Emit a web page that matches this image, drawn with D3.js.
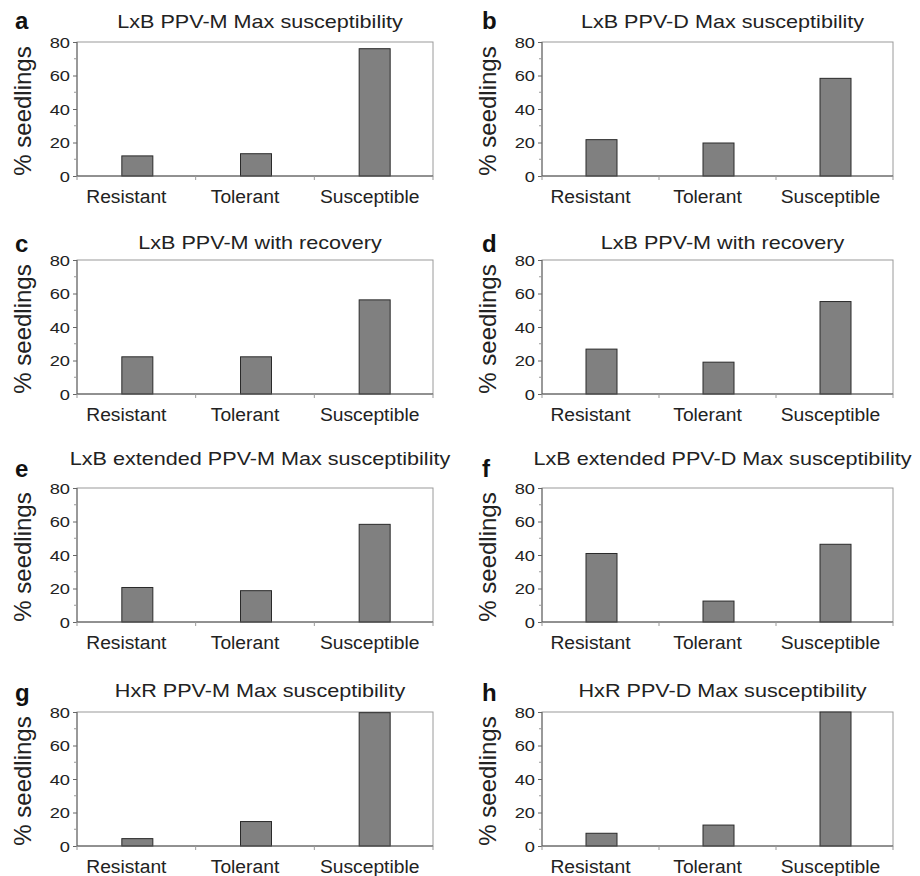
<!DOCTYPE html>
<meta charset="utf-8">
<title>Seedling susceptibility panels</title>
<style>
  body { margin: 0; background: #fff; }
  text { font-family: "Liberation Sans", Arial, sans-serif; fill: #222; }
  .frame { fill: none; stroke: #9a9a9a; stroke-width: 1px; }
  .bar { fill: #808080; stroke: #2a2a2a; stroke-width: 1px; }
  .axis path, .axis line { stroke: #666; }
</style>
<body>
<script src="https://cdn.jsdelivr.net/npm/d3@7"></script>
<script>

var width = 920,
    height = 876;

// data
var categories = ["Resistant", "Tolerant", "Susceptible"];
var letters = ["a", "b", "c", "d", "e", "f", "g", "h"];
var titles = [
  "LxB PPV-M Max susceptibility",
  "LxB PPV-D Max susceptibility",
  "LxB PPV-M with recovery",
  "LxB PPV-M with recovery",
  "LxB extended PPV-M Max susceptibility",
  "LxB extended PPV-D Max susceptibility",
  "HxR PPV-M Max susceptibility",
  "HxR PPV-D Max susceptibility"
];
var resistant   = [12, 21.7, 22.2, 26.8, 20.6, 40.9, 4.4, 7.6];
var tolerant    = [13.3, 19.7, 22.2, 19, 18.7, 12.5, 14.6, 12.5];
var susceptible = [76, 58.3, 56.2, 55.2, 58.3, 46.4, 79.6, 80];
var yTicks = [0, 20, 40, 60, 80];
var yMinor = [10, 30, 50, 70];

// layout
var colLeft = [77, 542], colRight = [433, 893];
var rowTop = [42, 260, 488, 712];
var plotH = 134;
var titleBase = [28, 249, 465, 697];
var letterBase = [29, 252, 477, 701];
var letterX = [15, 482];

var svg = d3.select("body").append("svg")
    .attr("width", width)
    .attr("height", height);

letters.forEach(function(letter, i) {
  var col = i % 2, row = Math.floor(i / 2);
  var x0 = colLeft[col], x1 = colRight[col];
  var y0 = rowTop[row], y1 = y0 + plotH;
  var values = [resistant[i], tolerant[i], susceptible[i]];

  var x = d3.scaleBand().domain(categories).range([x0, x1]);
  var y = d3.scaleLinear().domain([0, 80]).range([y1, y0]);

  var g = svg.append("g");

  g.append("rect").attr("class", "frame")
    .attr("x", x0).attr("y", y0)
    .attr("width", x1 - x0).attr("height", plotH);

  // bars
  var bw = 31;
  g.selectAll(".bar").data(values).enter().append("rect")
    .attr("class", "bar")
    .attr("x", function(d, j) { return x(categories[j]) + x.bandwidth() / 2 - bw / 2 + 1; })
    .attr("y", function(d) { return y(d); })
    .attr("width", bw)
    .attr("height", function(d) { return y1 - y(d); });

  // y axis
  var yAxis = g.append("g").attr("class", "axis")
    .attr("transform", "translate(" + x0 + ",0)")
    .call(d3.axisLeft(y).tickValues(yTicks).tickSize(4).tickFormat(""));
  yAxis.select(".domain").remove();
  g.append("line").attr("x1", x0).attr("x2", x0).attr("y1", y0).attr("y2", y1)
    .attr("stroke", "#666");
  g.selectAll(".minor").data(yMinor).enter().append("line")
    .attr("x1", x0 - 3).attr("x2", x0)
    .attr("y1", function(d) { return y(d); })
    .attr("y2", function(d) { return y(d); })
    .attr("stroke", "#999");

  g.selectAll(".ylab").data(yTicks).enter().append("text")
    .attr("transform", function(d) { return "translate(" + (x0 - 7) + "," + (y(d) + 5.5) + ") scale(1.22,1)"; })
    .attr("text-anchor", "end")
    .style("font-size", "15px")
    .text(function(d) { return d; });

  // x axis
  g.append("line").attr("x1", x0).attr("x2", x1).attr("y1", y1).attr("y2", y1)
    .attr("stroke", "#555");
  var bounds = [x0, x(categories[1]), x(categories[2]), x1];
  g.selectAll(".xt").data(bounds).enter().append("line")
    .attr("x1", function(d) { return d; }).attr("x2", function(d) { return d; })
    .attr("y1", y1).attr("y2", y1 + 4)
    .attr("stroke", "#999");

  g.selectAll(".xlab").data(categories).enter().append("text")
    .attr("transform", function(d, j) {
      var off = j == 2 ? -4 : -10;
      return "translate(" + (x(d) + x.bandwidth() / 2 + off) + "," + (y1 + 27) + ") scale(1.07,1)";
    })
    .attr("text-anchor", "middle")
    .style("font-size", "18px")
    .text(function(d) { return d; });

  // y label
  g.append("text")
    .attr("transform", "translate(" + (x0 - 46) + "," + ((y0 + y1) / 2 + 2) + ") rotate(-90)")
    .attr("text-anchor", "middle")
    .style("font-size", "24px")
    .text("% seedlings");

  // title
  g.append("text")
    .attr("transform", "translate(" + ((x0 + x1) / 2 + 5) + "," + titleBase[row] + ") scale(1.2,1)")
    .attr("text-anchor", "middle")
    .style("font-size", "18px")
    .text(titles[i]);

  // panel letter
  g.append("text")
    .attr("x", letterX[col]).attr("y", letterBase[row])
    .style("font-size", "24px")
    .style("font-weight", "bold")
    .style("fill", "#111")
    .text(letter);
});

</script>
</body>
